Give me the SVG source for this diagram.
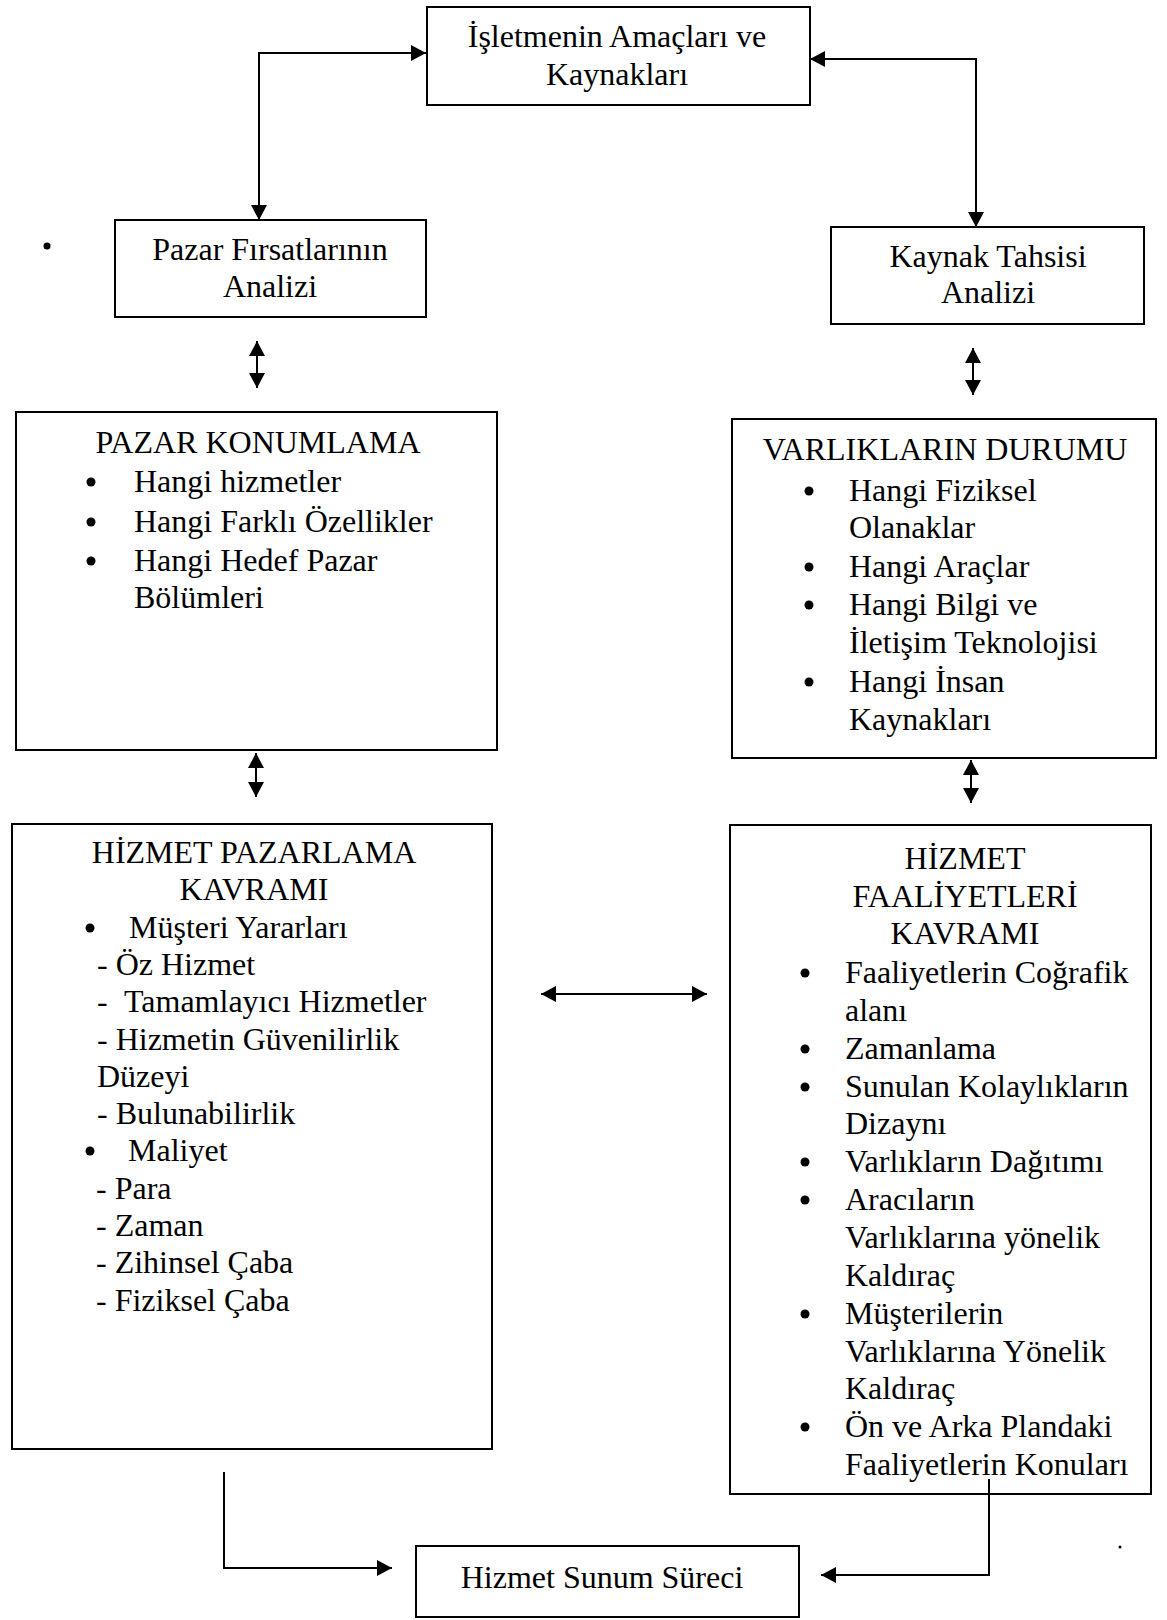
<svg xmlns="http://www.w3.org/2000/svg" width="1167" height="1620" viewBox="0 0 1167 1620">
  <style>
    .box { fill: #ffffff; stroke: #000000; stroke-width: 2; }
    .t { font-family: "Liberation Serif", "Times New Roman", serif; font-size: 32px; fill: #000000; }
    .c { text-anchor: middle; }
    .line { fill: none; stroke: #000000; stroke-width: 2; }
    .dot { fill: #000000; }
  </style>
  <defs>
    <marker id="arr" viewBox="0 0 15 16" refX="15" refY="8" markerWidth="15" markerHeight="16" markerUnits="userSpaceOnUse" orient="auto-start-reverse">
      <path d="M0,0 L15,8 L0,16 Z" fill="#000000"/>
    </marker>
  </defs>

  <rect width="1167" height="1620" fill="#ffffff"/>

  <!-- connectors -->
  <g id="connectors">
    <path class="line" d="M426,53 H259 V220" marker-start="url(#arr)" marker-end="url(#arr)"/>
    <path class="line" d="M810,59 H976 V227" marker-start="url(#arr)" marker-end="url(#arr)"/>
    <path class="line" d="M257,341 V388" marker-start="url(#arr)" marker-end="url(#arr)"/>
    <path class="line" d="M973,348 V395" marker-start="url(#arr)" marker-end="url(#arr)"/>
    <path class="line" d="M256,753 V797" marker-start="url(#arr)" marker-end="url(#arr)"/>
    <path class="line" d="M971,760 V803" marker-start="url(#arr)" marker-end="url(#arr)"/>
    <path class="line" d="M541,994 H707" marker-start="url(#arr)" marker-end="url(#arr)"/>
    <path class="line" d="M224,1472 V1568 H392" marker-end="url(#arr)"/>
  </g>

  <!-- top: goals and resources -->
  <g id="node-amaclar">
    <rect class="box" x="427" y="7" width="383" height="98"/>
    <text class="t c" x="617" y="47">İşletmenin Amaçları ve</text>
    <text class="t c" x="617" y="85">Kaynakları</text>
  </g>

  <g id="node-pazar-firsatlari">
    <rect class="box" x="115" y="220" width="311" height="97"/>
    <text class="t c" x="270" y="260">Pazar Fırsatlarının</text>
    <text class="t c" x="270" y="297">Analizi</text>
  </g>

  <g id="node-kaynak-tahsisi">
    <rect class="box" x="831" y="227" width="313" height="97"/>
    <text class="t c" x="988" y="267">Kaynak Tahsisi</text>
    <text class="t c" x="988" y="303">Analizi</text>
  </g>

  <g id="node-pazar-konumlama">
    <rect class="box" x="16" y="412" width="481" height="338"/>
    <text class="t c" x="258" y="453">PAZAR KONUMLAMA</text>
    <circle class="dot" cx="91" cy="482" r="4.5"/>
    <text class="t" x="134" y="492">Hangi hizmetler</text>
    <circle class="dot" cx="91" cy="522" r="4.5"/>
    <text class="t" x="134" y="532">Hangi Farklı Özellikler</text>
    <circle class="dot" cx="91" cy="561" r="4.5"/>
    <text class="t" x="134" y="571">Hangi Hedef Pazar</text>
    <text class="t" x="134" y="608">Bölümleri</text>
  </g>

  <g id="node-varliklar">
    <rect class="box" x="732" y="419" width="424" height="339"/>
    <text class="t c" x="945" y="460">VARLIKLARIN DURUMU</text>
    <circle class="dot" cx="809" cy="491" r="4.5"/>
    <text class="t" x="849" y="501">Hangi Fiziksel</text>
    <text class="t" x="849" y="538">Olanaklar</text>
    <circle class="dot" cx="809" cy="567" r="4.5"/>
    <text class="t" x="849" y="577">Hangi Araçlar</text>
    <circle class="dot" cx="809" cy="605" r="4.5"/>
    <text class="t" x="849" y="615">Hangi Bilgi ve</text>
    <text class="t" x="849" y="653">İletişim Teknolojisi</text>
    <circle class="dot" cx="809" cy="682" r="4.5"/>
    <text class="t" x="849" y="692">Hangi İnsan</text>
    <text class="t" x="849" y="730">Kaynakları</text>
  </g>

  <g id="node-hizmet-pazarlama">
    <rect class="box" x="12" y="824" width="480" height="625"/>
    <text class="t c" x="254" y="863">HİZMET PAZARLAMA</text>
    <text class="t c" x="254" y="900">KAVRAMI</text>
    <circle class="dot" cx="90" cy="928" r="4.5"/>
    <text class="t" x="129" y="938">Müşteri Yararları</text>
    <text class="t" x="97" y="975">- Öz Hizmet</text>
    <text class="t" x="97" y="1012">-</text>
    <text class="t" x="124" y="1012">Tamamlayıcı Hizmetler</text>
    <text class="t" x="97" y="1050">- Hizmetin Güvenilirlik</text>
    <text class="t" x="97" y="1087">Düzeyi</text>
    <text class="t" x="97" y="1124">- Bulunabilirlik</text>
    <circle class="dot" cx="90" cy="1151" r="4.5"/>
    <text class="t" x="128" y="1161">Maliyet</text>
    <text class="t" x="96" y="1199">- Para</text>
    <text class="t" x="96" y="1236">- Zaman</text>
    <text class="t" x="96" y="1273">- Zihinsel Çaba</text>
    <text class="t" x="96" y="1311">- Fiziksel Çaba</text>
  </g>

  <g id="node-hizmet-faaliyetleri">
    <rect class="box" x="730" y="825" width="421" height="669"/>
    <text class="t c" x="965" y="869">HİZMET</text>
    <text class="t c" x="965" y="907">FAALİYETLERİ</text>
    <text class="t c" x="965" y="944">KAVRAMI</text>
    <circle class="dot" cx="805" cy="973" r="4.5"/>
    <text class="t" x="845" y="983">Faaliyetlerin Coğrafik</text>
    <text class="t" x="845" y="1021">alanı</text>
    <circle class="dot" cx="805" cy="1049" r="4.5"/>
    <text class="t" x="845" y="1059">Zamanlama</text>
    <circle class="dot" cx="805" cy="1087" r="4.5"/>
    <text class="t" x="845" y="1097">Sunulan Kolaylıkların</text>
    <text class="t" x="845" y="1134">Dizaynı</text>
    <circle class="dot" cx="805" cy="1162" r="4.5"/>
    <text class="t" x="845" y="1172">Varlıkların Dağıtımı</text>
    <circle class="dot" cx="805" cy="1200" r="4.5"/>
    <text class="t" x="845" y="1210">Aracıların</text>
    <text class="t" x="845" y="1248">Varlıklarına yönelik</text>
    <text class="t" x="845" y="1286">Kaldıraç</text>
    <circle class="dot" cx="805" cy="1314" r="4.5"/>
    <text class="t" x="845" y="1324">Müşterilerin</text>
    <text class="t" x="845" y="1362">Varlıklarına Yönelik</text>
    <text class="t" x="845" y="1399">Kaldıraç</text>
    <circle class="dot" cx="805" cy="1427" r="4.5"/>
    <text class="t" x="845" y="1437">Ön ve Arka Plandaki</text>
    <text class="t" x="845" y="1475">Faaliyetlerin Konuları</text>
  </g>

  <!-- right-hand feed into the delivery process starts inside the box above -->
  <path class="line" d="M989,1479 V1575 H821" marker-end="url(#arr)"/>

  <g id="node-hizmet-sunum">
    <rect class="box" x="416" y="1546" width="383" height="71"/>
    <text class="t c" x="602" y="1588">Hizmet Sunum Süreci</text>
  </g>

  <!-- stray marks -->
  <circle class="dot" cx="47" cy="246" r="3.5"/>
  <circle class="dot" cx="1120" cy="1547" r="1.5"/>
</svg>
